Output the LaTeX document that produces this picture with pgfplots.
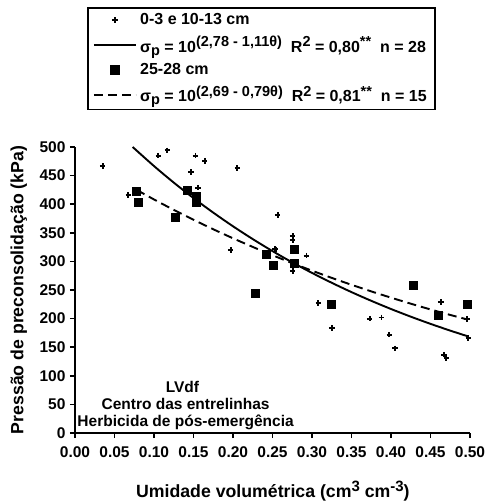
\documentclass[border=0pt]{standalone}
\usepackage{fontspec}
\setmainfont{Liberation Sans}
\usepackage{pgfplots}
\pgfplotsset{compat=1.18}
\pgfplotsset{
  legmark/.style={legend image code/.code={\draw[##1,mark repeat=2,mark phase=2] plot coordinates {(0pt,0pt)(21pt,0pt)(42pt,0pt)};}},
  legline/.style={legend image code/.code={\draw[##1] (0pt,0pt) -- (42pt,0pt);}},
}
\newcommand{\sps}[1]{\raisebox{0.55ex}{\fontsize{15}{16}\selectfont #1}}
\newcommand{\lsps}[1]{\raisebox{0.6ex}{\fontsize{14.5}{15}\selectfont #1}}
\newcommand{\lsub}[1]{\raisebox{-0.35ex}{\fontsize{14.5}{15}\selectfont #1}}
\begin{document}
\begin{tikzpicture}[x=1pt,y=1pt]
\useasboundingbox (-75,-70) rectangle (410,433);
\begin{axis}[
  scale only axis, width=395pt, height=286pt,
  xmin=0, xmax=0.5, ymin=0, ymax=500,
  axis x line*=bottom, axis y line*=left,
  axis line style={line width=2pt},
  xtick={0,0.05,...,0.5}, ytick={0,50,...,500},
  tick align=outside, major tick length=5pt,
  tick style={line width=1.5pt, black},
  /pgf/number format/assume math mode=true,
  x tick label style={/pgf/number format/.cd, fixed, fixed zerofill, precision=2, /tikz/.cd, yshift=-5pt},
  y tick label style={xshift=-1pt},
  tick label style={font=\fontsize{15.5}{17}\selectfont\bfseries},
  xlabel={Umidade volumétrica (cm\sps{3} cm\sps{-3})},
  ylabel={Pressão de preconsolidação (kPa)},
  label style={font=\fontsize{17.7}{20}\selectfont\bfseries},
  xlabel style={at={(axis description cs:0.501,-0.203)}, anchor=center},
  ylabel style={at={(axis description cs:-0.142,0.5)}, anchor=center},
  clip=false,
  legend style={at={(0.0304,1.4895)}, anchor=north west, draw=black, line width=1.6pt,
    font=\fontsize{16}{18}\selectfont\bfseries, inner xsep=5pt, inner ysep=4pt,
    row sep=6pt, nodes={inner xsep=3.5pt, inner ysep=2pt}},
  legend cell align=left,
]
\addplot[only marks, mark=+, mark size=2.8pt, line width=1.9pt, black, legmark]
coordinates {
(0.035,467) (0.0675,416) (0.1055,485) (0.117,494) (0.147,456) (0.1525,485)
(0.156,429) (0.164,476) (0.197,320) (0.2055,463) (0.254,321) (0.2565,381)
(0.2755,344) (0.2755,337) (0.2755,283) (0.293,310) (0.308,227) (0.325,184)
(0.373,200) (0.388,202) (0.398,172) (0.405,148) (0.463,229) (0.467,137)
(0.470,131) (0.498,166) (0.496,199) (0.253,322)
};
\addlegendentry{0-3 e 10-13 cm}
\addplot[black, line width=1.9pt, smooth, legline]
coordinates {
(0.073,500.0) (0.10,466.7) (0.125,437.8) (0.15,410.7) (0.175,385.3) (0.20,361.4)
(0.225,339.0) (0.25,318.0) (0.275,298.3) (0.30,279.9) (0.325,262.6) (0.35,246.3)
(0.375,231.1) (0.40,216.8) (0.425,203.4) (0.45,190.8) (0.475,179.0) (0.498,168.7)
};
\addlegendentry{σ\lsub{p} = 10\lsps{(2,78 - 1,11θ)}\ \ R\lsps{2} = 0,80\lsps{**}\ \ n = 28}
\addplot[only marks, mark=square*, mark size=4pt, black, legmark]
coordinates {
(0.078,423) (0.080,403) (0.1266,377.5) (0.1414,425) (0.153,413.5) (0.153,403)
(0.228,244.5) (0.2425,313) (0.2515,293) (0.277,321) (0.277,296) (0.3245,225)
(0.428,258.5) (0.460,206) (0.496,225)
};
\addlegendentry{25-28 cm}
\addplot[black, line width=1.9pt, dash pattern=on 9pt off 5pt, smooth, legline]
coordinates {
(0.078,425.1) (0.10,408.3) (0.125,390.1) (0.15,372.8) (0.175,356.2) (0.20,340.4)
(0.225,325.3) (0.25,310.8) (0.275,297.0) (0.30,283.8) (0.325,271.2) (0.35,259.1)
(0.375,247.6) (0.40,236.6) (0.425,226.1) (0.45,216.0) (0.475,206.4) (0.496,198.7)
};
\addlegendentry{σ\lsub{p} = 10\lsps{(2,69 - 0,79θ)}\ \ R\lsps{2} = 0,81\lsps{**}\ \ n = 15}
\node[font=\fontsize{15.5}{17}\selectfont\bfseries] at (axis cs:0.136,80) {LVdf};
\node[font=\fontsize{15.5}{17}\selectfont\bfseries] at (axis cs:0.140,51) {Centro das entrelinhas};
\node[font=\fontsize{15.5}{17}\selectfont\bfseries] at (axis cs:0.140,19) {Herbicida de pós-emergência};
\end{axis}
\end{tikzpicture}
\end{document}
